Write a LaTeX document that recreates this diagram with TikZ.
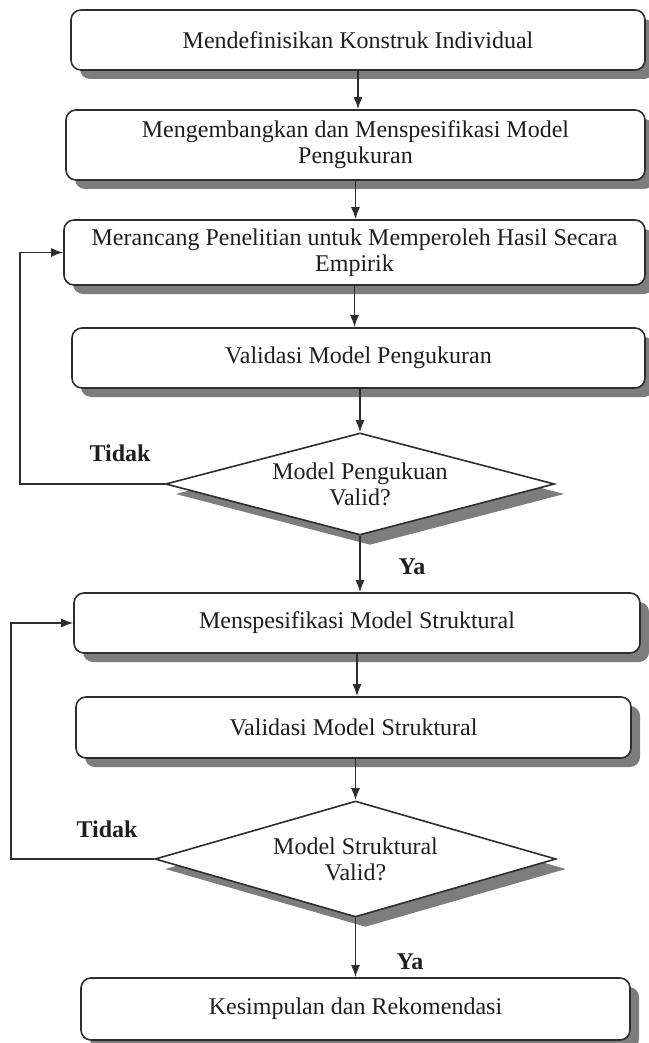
\documentclass[tikz,border=0pt]{standalone}
\usepackage{fontspec}
\setmainfont{Liberation Serif}
\usetikzlibrary{shapes.geometric,arrows.meta,shadows}
\definecolor{shadowgray}{RGB}{125,125,125}
\definecolor{linegray}{RGB}{45,45,45}
\definecolor{textgray}{RGB}{30,30,30}

\begin{document}
\begin{tikzpicture}[
  x=0.5pt, y=-0.5pt,
  box/.style={draw=linegray, fill=white, rectangle, rounded corners=5pt, line width=0.8pt, align=center, text=textgray, font=\fontsize{12}{13}\selectfont, drop shadow={shadow xshift=4.5pt, shadow yshift=-4.5pt, fill=shadowgray, opacity=1}},
  decision/.style={draw=linegray, fill=white, diamond, line width=0.8pt, inner sep=0pt, drop shadow={shadow xshift=5pt, shadow yshift=-5pt, fill=shadowgray, opacity=1}},
  qtext/.style={align=center, text=textgray, font=\fontsize{12}{13}\selectfont},
  lbl/.style={text=textgray, font=\fontsize{12}{13}\selectfont\bfseries},
  arr/.style={-{Latex[length=6pt,width=4.5pt]}, line width=0.8pt, draw=linegray}
]
\useasboundingbox (0,0) rectangle (648,1043);

\node[box, minimum width=287pt, minimum height=30pt] (konstruk) at (358,40) {Mendefinisikan Konstruk Individual};
\node[box, minimum width=289.5pt, minimum height=35pt] (ukur) at (355.5,145) {Mengembangkan dan Menspesifikasi Model\\Pengukuran};
\node[box, minimum width=290.5pt, minimum height=32.5pt] (rancang) at (354.5,252.5) {Merancang Penelitian untuk Memperoleh Hasil Secara\\Empirik};
\node[box, minimum width=286.5pt, minimum height=30pt] (validukur) at (358.5,358) {Validasi Model Pengukuran};
\node[decision, minimum width=194.5pt, minimum height=51pt, label={[qtext]center:Model Pengukuan\\Valid?}] (cekukur) at (360,484) {};
\node[box, minimum width=283pt, minimum height=30pt] (struktur) at (357,623) {Menspesifikasi Model Struktural};
\node[box, minimum width=277.5pt, minimum height=30.5pt] (validstruktur) at (353.5,727.5) {Validasi Model Struktural};
\node[decision, minimum width=200.5pt, minimum height=58pt, label={[qtext]center:Model Struktural\\Valid?}] (cekstruktur) at (355.5,859) {};
\node[box, minimum width=274.5pt, minimum height=31pt] (simpul) at (355.5,1009) {Kesimpulan dan Rekomendasi};

\draw[arr] (konstruk.south) -- (konstruk.south |- ukur.north);
\draw[arr] (ukur.south) -- (ukur.south |- rancang.north);
\draw[arr] (rancang.south) -- (rancang.south |- validukur.north);
\draw[arr] (validukur.south -| cekukur.north) -- (cekukur.north);
\draw[arr] (cekukur.south) -- (cekukur.south |- struktur.north);
\draw[arr] (struktur.south) -- (struktur.south |- validstruktur.north);
\draw[arr] (validstruktur.south -| cekstruktur.north) -- (cekstruktur.north);
\draw[arr] (cekstruktur.south) -- (cekstruktur.south |- simpul.north);

% jalur kembali jika tidak valid
\draw[arr] (cekukur.west) -- ++(-145,0) |- (rancang.west);
\draw[arr] (cekstruktur.west) -- ++(-143,0) |- (struktur.west);

\node[lbl] (tidak1) at (120,453) {Tidak};
\node[lbl] (ya1) at (412,567) {Ya};
\node[lbl] (tidak2) at (107,829) {Tidak};
\node[lbl] (ya2) at (410,962) {Ya};
\end{tikzpicture}
\end{document}
